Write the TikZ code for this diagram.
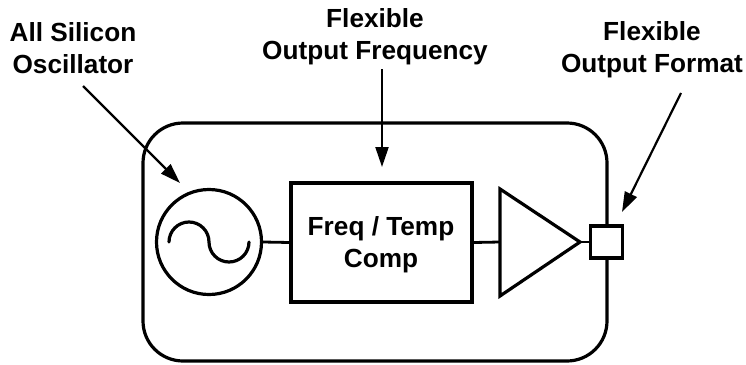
\documentclass[tikz,border=0pt]{standalone}
\usepackage{fontspec}
\setmainfont{Liberation Sans}
\usetikzlibrary{arrows.meta}
\begin{document}
\begin{tikzpicture}[x=1pt,y=-1pt,
  lbl/.style={font=\bfseries\fontsize{26.2}{32}\selectfont, align=center, inner sep=0pt, anchor=base},
  thick3/.style={line width=3.2pt},
  ptr/.style={line width=2.2pt, -{Triangle[length=20pt,width=13pt]}},
  wire/.style={line width=2.8pt}]
\useasboundingbox (0,0) rectangle (746,364);
% outer package
\node[thick3, draw, rounded corners=40pt, minimum width=464pt, minimum height=238pt, inner sep=0pt] (chip) at (375,242) {};
% oscillator
\node[thick3, draw, circle, minimum size=105pt, inner sep=0pt] (osc) at (209,242) {};
\draw[thick3, line cap=round] (osc.center) ++(-40,0) arc[start angle=180, end angle=0, radius=20pt]
  arc[start angle=180, end angle=360, radius=20pt];
% freq/temp comp
\node[thick3, draw, minimum width=181pt, minimum height=119pt, inner sep=0pt] (comp) at (381.5,242.5) {};
\node[lbl] (comptext) at (381,267) {Freq / Temp\\Comp};
% amplifier
\coordinate (ampA) at (500,189);
\coordinate (ampB) at (500,296);
\coordinate (ampT) at (580,242);
\coordinate (ampIn) at (500,242);
\draw[thick3, line join=miter] (ampA) -- (ampT) -- (ampB) -- cycle;
% output pad
\node[thick3, draw, fill=white, minimum size=32pt, inner sep=0pt] (pad) at (606.5,242) {};
% wires
\draw[wire] (osc.east) -- (comp.west);
\draw[wire] (comp.east) -- (ampIn);
\draw[wire] (ampT) -- (pad.west);
% labels
\node[lbl] (l1) at (73,73) {All Silicon\\Oscillator};
\node[lbl] (l2) at (375,59) {Flexible\\Output Frequency};
\node[lbl] (l3) at (652,72) {Flexible\\Output Format};
% pointers
\coordinate (s1) at (83,86);  \coordinate (t1) at (180,183);
\coordinate (s2) at (382,69); \coordinate (t2) at (382,167);
\coordinate (s3) at (681,93); \coordinate (t3) at (622,212);
\draw[ptr] (s1) -- (t1);
\draw[ptr] (s2) -- (t2);
\draw[ptr] (s3) -- (t3);
\end{tikzpicture}
\end{document}
